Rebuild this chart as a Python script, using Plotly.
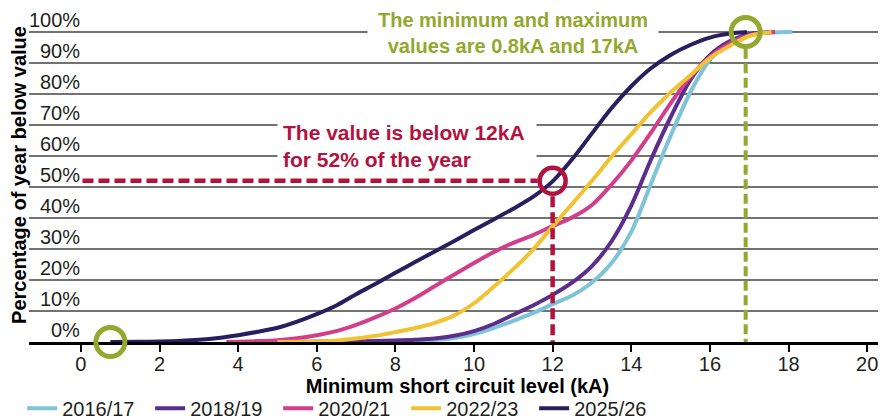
import plotly.graph_objects as go

# ---------------- data ----------------
years = ["2016/17", "2018/19", "2020/21", "2022/23", "2025/26"]
colors = ["#7fc3d7", "#5b2d8c", "#d23e8c", "#f1c232", "#2a1f5e"]

x_1617 = [5, 5.5, 6, 6.5, 7, 7.5, 8, 8.5, 9, 9.5, 10, 10.5, 11, 11.5, 12, 12.5, 13, 13.5, 14, 14.5, 15, 15.5, 16, 16.5, 17, 17.5, 18.1]
y_1617 = [0, 0.02, 0.05, 0.1, 0.15, 0.2, 0.3, 0.45, 0.7, 1.3, 2.6, 4.5, 6.8, 9.3, 12.2, 15, 19.2, 25.5, 35.5, 51, 66.5, 80.5, 91, 96.5, 98.9, 99.8, 100]

x_1819 = [4.5, 5, 5.5, 6, 6.5, 7, 7.5, 8, 8.5, 9, 9.5, 10, 10.5, 11, 11.5, 12, 12.5, 13, 13.5, 14, 14.5, 15, 15.5, 16, 16.5, 17, 17.6]
y_1819 = [0, 0.02, 0.05, 0.1, 0.15, 0.2, 0.3, 0.45, 0.7, 1.1, 2, 3.5, 5.8, 8.8, 11.8, 15.2, 19.2, 24.5, 32.5, 44, 58.8, 72.5, 84.5, 92.5, 97, 99.3, 100]

x_2021 = [3.7, 4, 4.5, 5, 5.5, 6, 6.5, 7, 7.5, 8, 8.5, 9, 9.5, 10, 10.5, 11, 11.5, 12, 12.5, 13, 13.5, 14, 14.5, 15, 15.5, 16, 16.5, 17, 17.66]
y_2021 = [0, 0.1, 0.3, 0.6, 1.2, 2.2, 3.5, 5.5, 8, 10.8, 14.2, 18, 21.8, 25.5, 29, 32, 34.5, 37.4, 40.2, 44.2, 50.8, 58.5, 67.5, 77, 85.5, 92, 96.3, 99, 100]

x_2223 = [5, 5.5, 6, 6.5, 7, 7.5, 8, 8.5, 9, 9.5, 10, 10.5, 11, 11.5, 12, 12.5, 13, 13.5, 14, 14.5, 15, 15.5, 16, 16.5, 17, 17.57]
y_2223 = [0, 0.05, 0.2, 0.5, 1.1, 2.0, 3.2, 4.5, 6.2, 8.6, 12.5, 17.8, 23.5, 29.8, 37.3, 44.6, 52, 59.8, 67, 74.2, 80.5, 86, 91.6, 95.5, 98.7, 100]

x_2526 = [0.75, 1.5, 2, 2.5, 3, 3.5, 4, 4.5, 5, 5.5, 6, 6.5, 7, 7.5, 8, 8.5, 9, 9.5, 10, 10.5, 11, 11.5, 12, 12.5, 13, 13.5, 14, 14.5, 15, 15.5, 16, 16.5, 16.94]
y_2526 = [0, 0.05, 0.15, 0.35, 0.7, 1.3, 2.2, 3.3, 4.6, 6.6, 9, 11.8, 15.4, 18.8, 22.3, 25.8, 29.2, 32.6, 36.1, 39.5, 43, 46.8, 51.8, 59, 67.3, 75.5, 82.5, 88.3, 92.6, 95.8, 98.2, 99.5, 100]

series_x = [x_1617, x_1819, x_2021, x_2223, x_2526]
series_y = [y_1617, y_1819, y_2021, y_2223, y_2526]

x_ticks = [0, 2, 4, 6, 8, 10, 12, 14, 16, 18, 20]
y_ticks = [0, 10, 20, 30, 40, 50, 60, 70, 80, 90, 100]
y_tick_labels = [f"{v}%" for v in y_ticks]

# highlighted points
red_point = (12, 52)          # below 12kA for 52% of the year
min_point = (0.75, 0)         # minimum value
max_point = (16.91, 100)      # maximum value

red_text = "The value is below 12kA<br>for 52% of the year"
green_text = "The minimum and maximum<br>values are 0.8kA and 17kA"

RED = "#b3123e"
GREEN = "#93a82e"
FONT = "Liberation Sans, Arial, sans-serif"

fig = go.Figure()

for name, xs, ys, c in zip(years, series_x, series_y, colors):
    fig.add_trace(go.Scatter(
        x=xs, y=ys, name=name, mode="lines",
        line=dict(color=c, width=4, shape="spline", smoothing=0.8),
        cliponaxis=False,
    ))

# red guide lines
fig.add_trace(go.Scatter(
    x=[0.04, red_point[0] - 0.38], y=[red_point[1], red_point[1]], mode="lines",
    line=dict(color=RED, width=4.5, dash="11px,5px"), showlegend=False, hoverinfo="skip"))
fig.add_trace(go.Scatter(
    x=[red_point[0], red_point[0]], y=[red_point[1] - 5, 0], mode="lines",
    line=dict(color=RED, width=4.5, dash="11px,5px"), showlegend=False, hoverinfo="skip"))
# green guide line
fig.add_trace(go.Scatter(
    x=[max_point[0], max_point[0]], y=[max_point[1] - 5.4, 0], mode="lines",
    line=dict(color=GREEN, width=4, dash="10px,4.5px"), showlegend=False, hoverinfo="skip"))

# circles
fig.add_trace(go.Scatter(
    x=[red_point[0]], y=[red_point[1]], mode="markers",
    marker=dict(symbol="circle-open", size=26, line=dict(color=RED, width=4.5), color=RED),
    showlegend=False, cliponaxis=False, hoverinfo="skip"))
fig.add_trace(go.Scatter(
    x=[min_point[0], max_point[0]], y=[min_point[1], max_point[1]], mode="markers",
    marker=dict(symbol="circle-open", size=29, line=dict(color=GREEN, width=5), color=GREEN),
    showlegend=False, cliponaxis=False, hoverinfo="skip"))

annotations = []
for v, lab in zip(y_ticks, y_tick_labels):
    annotations.append(dict(
        x=0, y=v, xref="x", yref="y", text=lab, showarrow=False,
        xanchor="right", yanchor="bottom", xshift=1, yshift=-1,
        font=dict(family=FONT, size=20, color="#231f20")))

annotations.append(dict(
    x=4.99, y=63.2, xref="x", yref="y", text=red_text, showarrow=False,
    xanchor="left", yanchor="middle", align="left", width=248,
    bgcolor="white", borderpad=5,
    font=dict(family=FONT, size=21, color=RED, weight="bold")))
annotations.append(dict(
    x=10.98, y=99.6, xref="x", yref="y", text=green_text, showarrow=False,
    xanchor="center", yanchor="middle", align="center", width=288,
    bgcolor="white", borderpad=1,
    font=dict(family=FONT, size=20, color=GREEN, weight="bold")))

# The page is drawn with an 8px body margin, so the figure is sized to fit the window.
fig.update_layout(
    width=878, height=411,
    margin=dict(l=21, r=0, t=0, b=77, autoexpand=False),
    paper_bgcolor="white", plot_bgcolor="white",
    font=dict(family=FONT, size=20, color="#231f20"),
    showlegend=True,
    legend=dict(
        orientation="h", x=-0.008, xanchor="left", y=-0.198, yanchor="middle",
        font=dict(family=FONT, size=20, color="#231f20"),
        entrywidth=83, entrywidthmode="pixels", itemwidth=30,
        bgcolor="rgba(0,0,0,0)",
    ),
    annotations=annotations,
    xaxis=dict(
        range=[-1.32, 20.48], tickvals=x_ticks, ticktext=[str(t) for t in x_ticks],
        showgrid=False, zeroline=False,
        showline=True, linecolor="black", linewidth=2.5,
        ticks="outside", ticklen=7, tickwidth=2, tickcolor="black",
        ticklabelstandoff=-5,
        tickfont=dict(family=FONT, size=20, color="#231f20"),
        title=dict(text="<b>Minimum short circuit level (kA)</b>",
                   font=dict(family=FONT, size=20, color="black"), standoff=0),
        automargin=False, layer="below traces",
    ),
    yaxis=dict(
        range=[0, 107.74], tickvals=y_ticks, showticklabels=False,
        showgrid=True, gridcolor="#727272", gridwidth=1.5,
        zeroline=False, showline=False, ticks="",
        title=dict(text="<b>Percentage of year below value</b>",
                   font=dict(family=FONT, size=20, color="black"), standoff=0),
        automargin=False, layer="below traces",
    ),
)

fig.write_html("out.html")
